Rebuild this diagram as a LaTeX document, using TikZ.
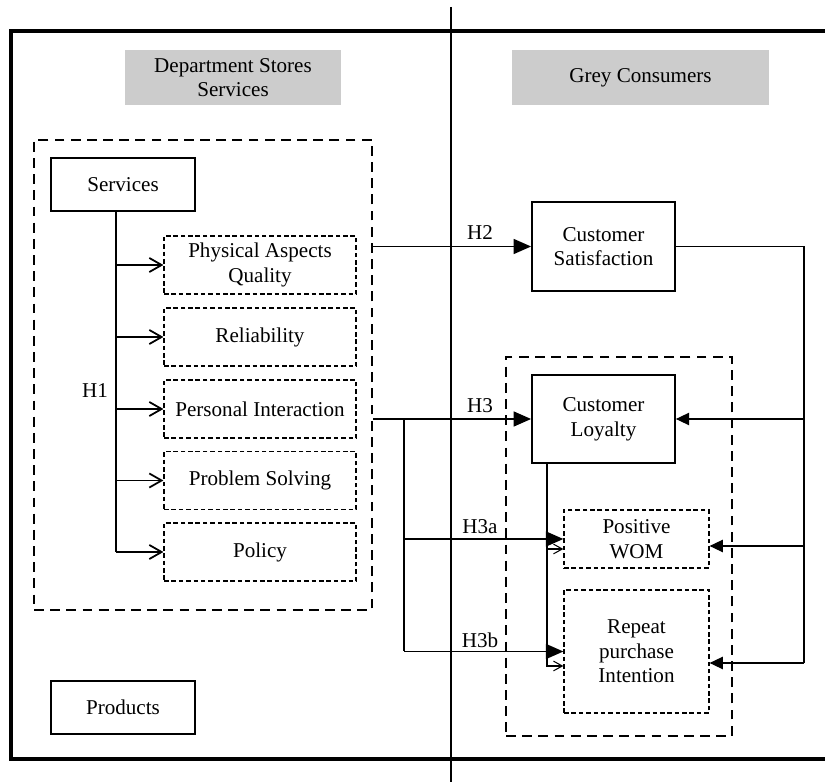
\documentclass[tikz,border=0pt]{standalone}
\usepackage{fontspec}
\setmainfont{Liberation Serif}
\usetikzlibrary{arrows.meta}
\definecolor{boxgrey}{HTML}{CCCCCC}
\begin{document}
\begin{tikzpicture}[
    font = \fontsize{12}{14}\selectfont,
    solidbox/.style = {draw, line width = 1pt, align = center, inner sep = 0pt},
    dimbox/.style = {draw, line width = 0.7pt, dash pattern = on 2.6pt off 1.6pt, align = center, inner sep = 0pt},
    groupbox/.style = {draw, line width = 1.5pt, dash pattern = on 5.6pt off 3.6pt, inner sep = 0pt},
    headbox/.style = {fill = boxgrey, align = center, inner sep = 0pt, minimum height = 1.1cm},
    mainarrow/.style = {line width = 1.1pt, -{Triangle[length = 10pt, width = 8.5pt]}},
    backarrow/.style = {line width = 0.7pt, -{Triangle[length = 7.5pt, width = 7pt]}},
    subarrow/.style = {line width = 1pt, -{Straight Barb[length = 7pt, width = 8pt]}},
    tinyarrow/.style = {line width = 0.6pt, -{Straight Barb[length = 5pt, width = 5.5pt]}}
  ]
  \useasboundingbox (0,0) rectangle (16.5,15.64);

  %Frame
  \draw [line width = 2.1pt] (16.5,15.02) -| (0.22,0.46) -- (16.5,0.46);
  \draw [line width = 1.5pt] (9.02,15.5) -- (9.02,0);

  %Headings
  \node [headbox, minimum width = 4.32cm] (dshead)at(4.66,14.09){Department Stores\\Services};
  \node [headbox, minimum width = 5.14cm] (gchead)at(12.81,14.09){Grey Consumers};

  %Services group
  \node [groupbox, minimum width = 6.76cm, minimum height = 9.4cm] (svcgroup)at(4.06,8.14){};
  \node [solidbox, minimum width = 2.88cm, minimum height = 1.06cm] (svc)at(2.46,11.95){Services};
  \node [dimbox, minimum width = 3.84cm, minimum height = 1.16cm] (phys)at(5.2,10.34){Physical Aspects\\Quality};
  \node [dimbox, minimum width = 3.84cm, minimum height = 1.16cm] (rel)at(5.2,8.9){Reliability};
  \node [dimbox, minimum width = 3.84cm, minimum height = 1.16cm] (pers)at(5.2,7.46){Personal Interaction};
  \node [dimbox, minimum width = 3.84cm, minimum height = 1.16cm] (prob)at(5.2,6.03){Problem Solving};
  \node [dimbox, minimum width = 3.84cm, minimum height = 1.16cm] (pol)at(5.2,4.6){Policy};
  \node (h1)at(1.9,7.82){H1};

  %Products
  \node [solidbox, line width = 0.7pt, minimum width = 2.88cm, minimum height = 1.06cm] (prod)at(2.46,1.49){Products};

  %Consumers side
  \node [solidbox, minimum width = 2.86cm, minimum height = 1.78cm] (cs)at(12.07,10.71){Customer\\Satisfaction};
  \node [groupbox, minimum width = 4.52cm, minimum height = 7.58cm] (loygroup)at(12.38,4.71){};
  \node [solidbox, minimum width = 2.86cm, minimum height = 1.76cm] (loy)at(12.07,7.26){Customer\\Loyalty};
  \node [dimbox, minimum width = 2.9cm, minimum height = 1.16cm] (wom)at(12.73,4.86){Positive\\WOM};
  \node [dimbox, minimum width = 2.9cm, minimum height = 2.46cm] (rep)at(12.73,2.61){Repeat\\purchase\\Intention};

  %H1 links
  \coordinate (trunk)at(2.32,4.6);
  \draw [line width = 1pt] (svc.south -| trunk) -- (trunk |- pol.west);
  \draw [subarrow] (trunk |- phys.west) -- (phys.west);
  \draw [subarrow] (trunk |- rel.west) -- (rel.west);
  \draw [subarrow] (trunk |- pers.west) -- (pers.west);
  \draw [subarrow] (trunk |- prob.west) -- (prob.west);
  \draw [subarrow] (trunk |- pol.west) -- (pol.west);

  %H2 and H3 links
  \draw [mainarrow] (svcgroup.east |- cs.west) -- (cs.west);
  \node (h2)at(9.6,10.98){H2};
  \draw [mainarrow] (svcgroup.east |- loy.west) -- (loy.west);
  \node (h3)at(9.6,7.52){H3};
  \coordinate (split)at(8.08,0);
  \draw [line width = 1.1pt] (split |- loy.west) -- (split |- rep.west);
  \draw [mainarrow] (split |- wom.west) -- (wom.west);
  \node (h3a)at(9.6,5.1){H3a};
  \draw [mainarrow] (split |- rep.west) -- (rep.west);
  \node (h3b)at(9.6,2.84){H3b};

  %Loyalty to its parts
  \coordinate (drop)at(10.94,0);
  \coordinate (womin)at([yshift = -0.2cm]wom.west);
  \coordinate (repin)at([yshift = -0.29cm]rep.west);
  \draw [tinyarrow] (loy.south -| drop) |- (repin);
  \draw [tinyarrow] (drop |- womin) -- (womin);

  %Satisfaction feedback
  \coordinate (fb)at(16.08,0);
  \coordinate (womback)at([yshift = -0.14cm]wom.east);
  \coordinate (repback)at([yshift = -0.23cm]rep.east);
  \draw [line width = 0.7pt] (cs.east) -| (fb |- repback);
  \draw [backarrow] (fb |- loy.east) -- (loy.east);
  \draw [backarrow] (fb |- womback) -- (womback);
  \draw [backarrow] (fb |- repback) -- (repback);

\end{tikzpicture}
\end{document}
